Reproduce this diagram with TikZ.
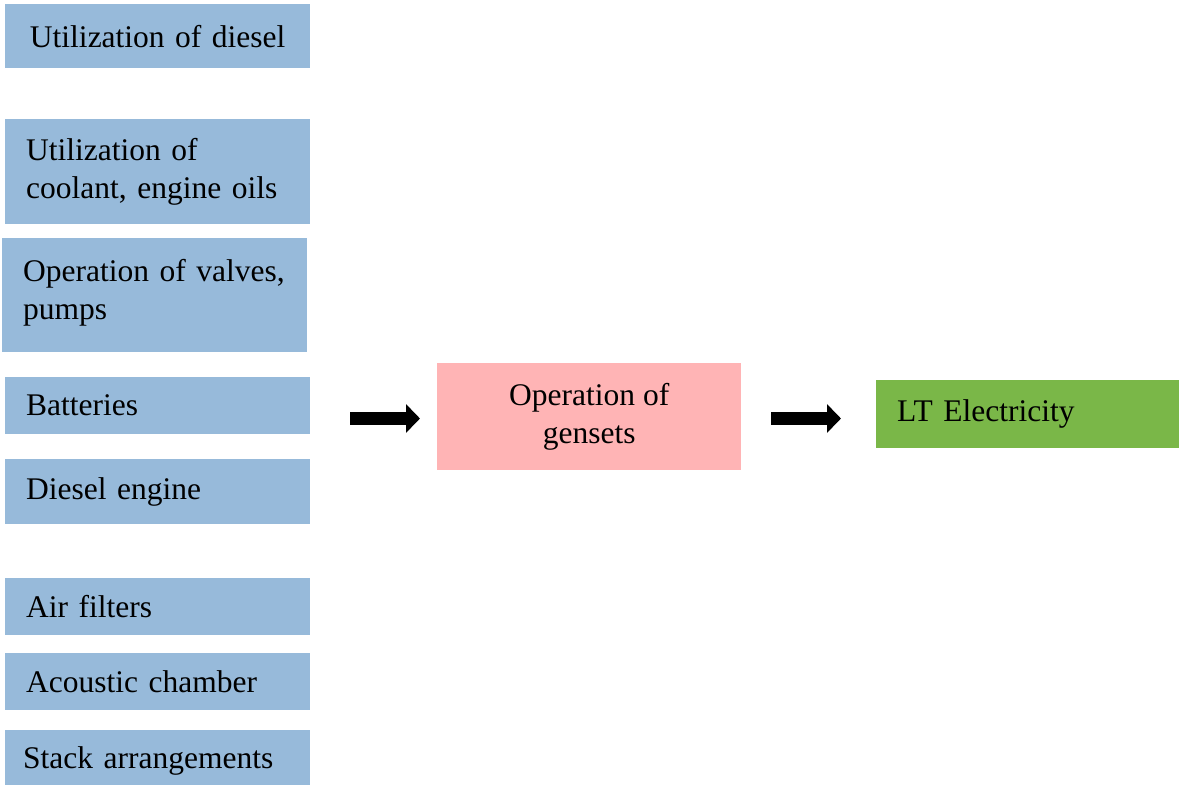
\documentclass[tikz,border=0pt]{standalone}
\usepackage{fontspec}
\setmainfont{Liberation Serif}
\usetikzlibrary{arrows.meta}
\definecolor{boxblue}{RGB}{151,186,218}
\definecolor{boxpink}{RGB}{255,180,181}
\definecolor{boxgreen}{RGB}{122,183,72}
\begin{document}
\begin{tikzpicture}[x=1pt,y=-1pt,
  every node/.style={font=\fontsize{31.5}{38}\selectfont},
  lbox/.style={fill=boxblue, anchor=north west, minimum width=305pt, inner xsep=21pt, inner ysep=0pt, text width=263pt, align=left},
  blockarrow/.style={line width=13pt, -{Triangle[length=14pt,width=28pt]}}]
\useasboundingbox (0,0) rectangle (1179,785);
\node[lbox, align=center, minimum height=64pt] (diesel) at (5,4) {Utilization of diesel};
\node[lbox, minimum height=105pt] (coolant) at (5,119) {Utilization of\\coolant, engine oils};
\node[lbox, minimum height=114pt, inner xsep=21pt] (valves) at (2,238) {Operation of valves,\\pumps\\[-26pt]\mbox{}};
\node[lbox, minimum height=57pt] (batt) at (5,377) {Batteries};
\node[lbox, minimum height=65pt] (engine) at (5,459) {Diesel engine};
\node[lbox, minimum height=57pt] (air) at (5,578) {Air filters};
\node[lbox, minimum height=57pt] (acoustic) at (5,653) {Acoustic chamber};
\node[lbox, minimum height=62pt, inner xsep=18pt, text width=269pt] (stack) at (5,730) {Stack arrangements};
\node[fill=boxpink, anchor=north west, minimum width=304pt, minimum height=107pt, align=center, inner sep=0pt] (gensets) at (437,363) {Operation of\\gensets};
\node[fill=boxgreen, anchor=north west, minimum width=303pt, minimum height=68pt, inner xsep=21pt, inner ysep=0pt, text width=261pt, align=left] (lt) at (876,380) {LT Electricity};
\coordinate (a1s) at (350,418.5);
\coordinate (a1e) at (420,418.5);
\coordinate (a2s) at (771,418.5);
\coordinate (a2e) at (841,418.5);
\draw[blockarrow] (a1s) -- (a1e);
\draw[blockarrow] (a2s) -- (a2e);
\end{tikzpicture}
\end{document}
